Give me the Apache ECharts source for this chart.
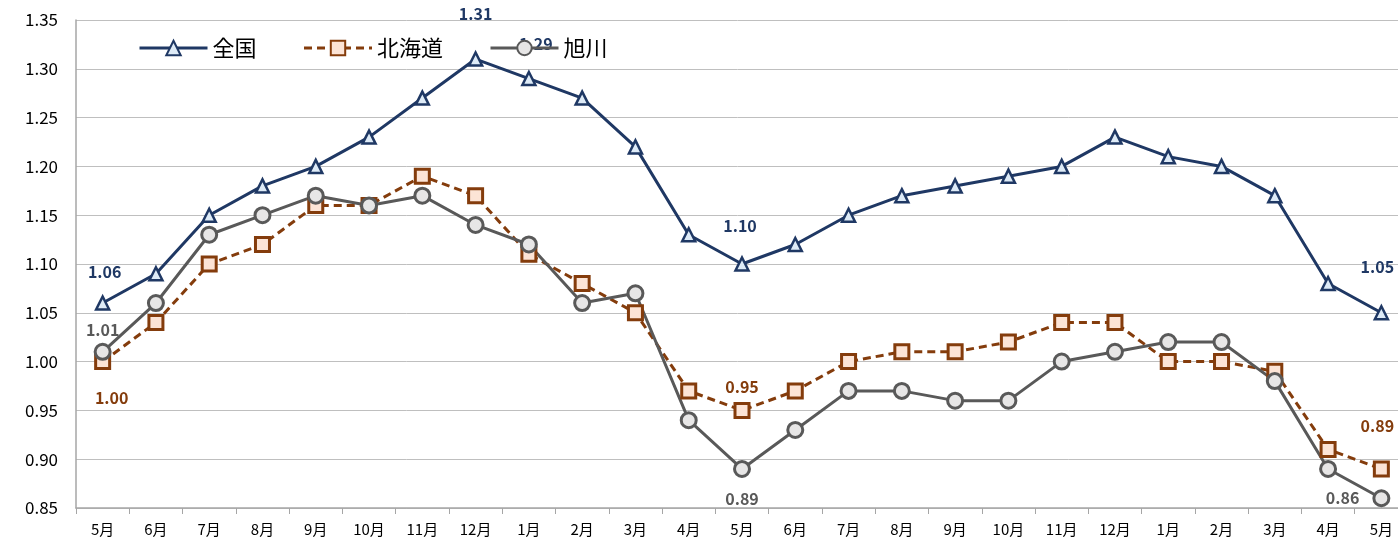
<!DOCTYPE html>
<html><head><meta charset="utf-8">
<script src="https://cdn.jsdelivr.net/npm/echarts@6/dist/echarts.min.js"></script>
<style>html,body{margin:0;padding:0;background:#fff}#c{width:1398px;height:543px}</style>
</head><body><div id="c"></div>
<script>
const categories = ['5月','6月','7月','8月','9月','10月','11月','12月','1月','2月','3月','4月','5月','6月','7月','8月','9月','10月','11月','12月','1月','2月','3月','4月','5月'];
const zenkoku = [1.06,1.09,1.15,1.18,1.20,1.23,1.27,1.31,1.29,1.27,1.22,1.13,1.10,1.12,1.15,1.17,1.18,1.19,1.20,1.23,1.21,1.20,1.17,1.08,1.05];
const hokkaido = [1.00,1.04,1.10,1.12,1.16,1.16,1.19,1.17,1.11,1.08,1.05,0.97,0.95,0.97,1.00,1.01,1.01,1.02,1.04,1.04,1.00,1.00,0.99,0.91,0.89];
const asahikawa = [1.01,1.06,1.13,1.15,1.17,1.16,1.17,1.14,1.12,1.06,1.07,0.94,0.89,0.93,0.97,0.97,0.96,0.96,1.00,1.01,1.02,1.02,0.98,0.89,0.86];
const yTicks = [0.85,0.90,0.95,1.00,1.05,1.10,1.15,1.20,1.25,1.30,1.35];

const FONT = '"Noto Sans CJK JP", "Noto Sans", sans-serif';
const C1 = '#1F3864', C2 = '#843C0C', C3 = '#595959';

function build(values, color, labels) {
  return values.map((v, i) => {
    const item = { value: v };
    if (labels[i]) {
      item.label = Object.assign({
        show: true, color: color, fontWeight: 'bold', fontSize: 16, fontFamily: FONT,
        formatter: p => p.value.toFixed(2)
      }, labels[i]);
    }
    return item;
  });
}

const lab1 = {0: {position: 'top', offset: [2, -10]}, 7: {position: 'top', offset: [0, -24]}, 8: {position: 'top', offset: [7, -14]},
  12: {position: 'top', offset: [-2, -17]}, 24: {position: 'top', offset: [-4, -25]}};
const lab2 = {0: {position: 'bottom', offset: [9, 15]}, 12: {position: 'top', offset: [0, -2]}, 24: {position: 'top', offset: [-4, -22]}};
const lab3 = {0: {position: 'top', offset: [0, 0]}, 12: {position: 'bottom', offset: [0, 8]}, 24: {position: 'left', offset: [-8, 0]}};

const chart = echarts.init(document.getElementById('c'));
chart.setOption({
  animation: false,
  textStyle: { fontFamily: FONT },
  grid: { left: 76, width: 1332, top: 20, bottom: 35, outerBoundsMode: 'none', containLabel: false },
  legend: {
    top: 32, left: 133, itemWidth: 68, itemHeight: 18, itemGap: 46,
    textStyle: { fontSize: 22, color: '#000', fontFamily: FONT },
    lineStyle: { width: 3 },
    data: ['全国', '北海道', '旭川']
  },
  xAxis: {
    type: 'category', data: categories, boundaryGap: true,
    axisLine: { lineStyle: { color: '#A6A6A6', width: 1.5 } },
    axisTick: { show: true, alignWithLabel: false, length: 6, lineStyle: { color: '#A6A6A6' } },
    axisLabel: { color: '#000', fontSize: 15, margin: 14, interval: 0 }
  },
  yAxis: {
    type: 'value', min: 0.85, max: 1.35, interval: 0.05,
    axisLine: { show: true, lineStyle: { color: '#A6A6A6', width: 1.5 } },
    axisTick: { show: false },
    splitLine: { lineStyle: { color: '#BFBFBF', width: 1 } },
    axisLabel: { color: '#000', fontSize: 17, margin: 18, formatter: v => v.toFixed(2) }
  },
  series: [
    { name: '全国', type: 'line', data: build(zenkoku, C1, lab1), symbol: 'triangle', symbolSize: 13,
      lineStyle: { color: C1, width: 3 }, itemStyle: { color: '#DEEBF7', borderColor: C1, borderWidth: 2.5 }, z: 3 },
    { name: '北海道', type: 'line', data: build(hokkaido, C2, lab2), symbol: 'rect', symbolSize: 14,
      lineStyle: { color: C2, width: 3, type: [8, 5] }, itemStyle: { color: '#FCE4D6', borderColor: C2, borderWidth: 3 }, z: 2 },
    { name: '旭川', type: 'line', data: build(asahikawa, C3, lab3), symbol: 'circle', symbolSize: 15,
      lineStyle: { color: C3, width: 3 }, itemStyle: { color: '#E7E6E6', borderColor: C3, borderWidth: 3 }, z: 2 }
  ]
});
</script></body></html>
